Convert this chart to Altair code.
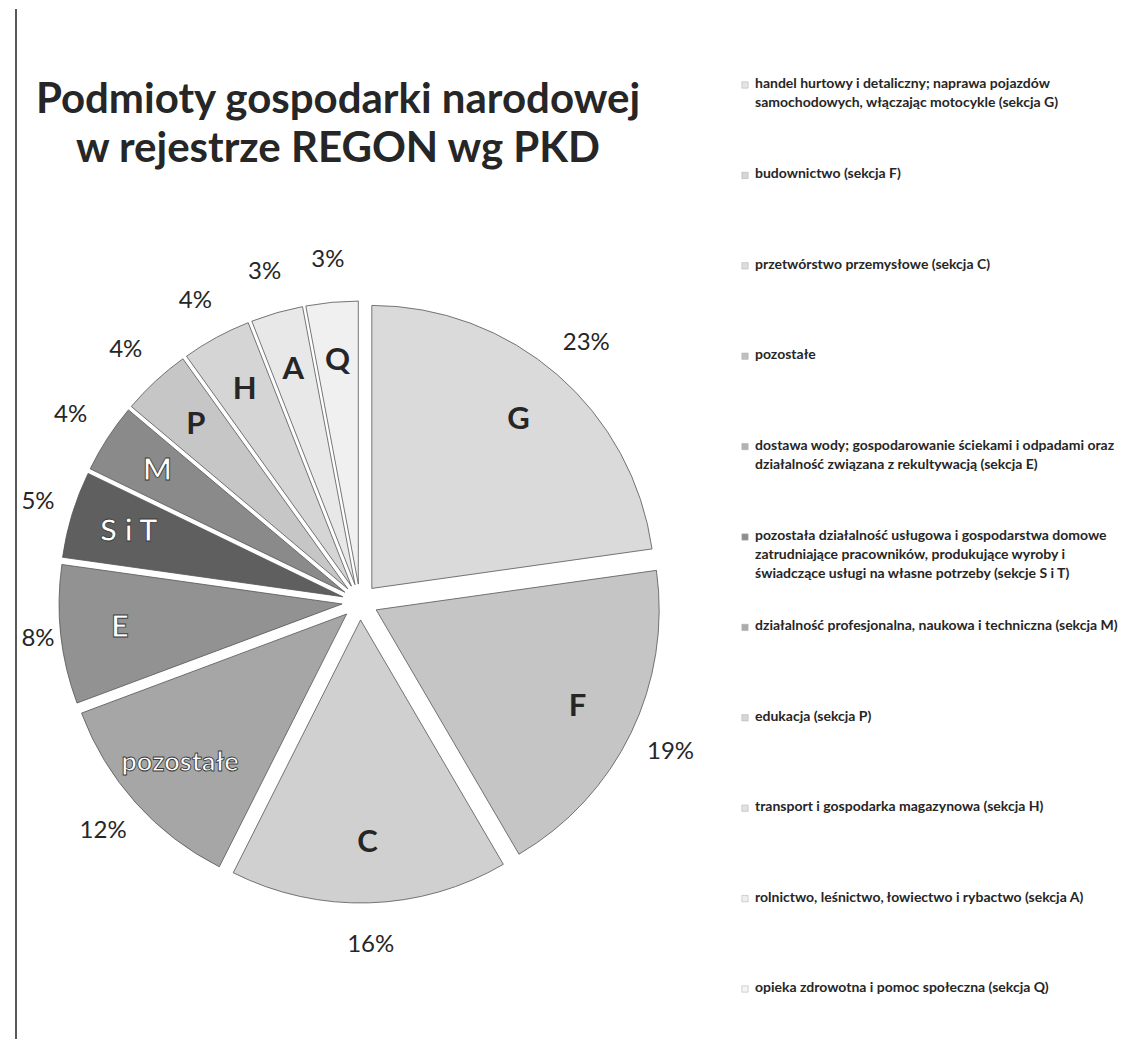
import altair as alt
import pandas as pd

# ---- data ----
sections = ["G", "F", "C", "pozostałe", "E", "S i T", "M", "P", "H", "A", "Q"]
shares = [23, 19, 16, 12, 8, 5, 4, 4, 4, 3, 3]
legend_lines = [
    ["handel hurtowy i detaliczny; naprawa pojazdów", "samochodowych, włączając motocykle (sekcja G)"],
    ["budownictwo (sekcja F)"],
    ["przetwórstwo przemysłowe (sekcja C)"],
    ["pozostałe"],
    ["dostawa wody; gospodarowanie ściekami i odpadami oraz", "działalność związana z rekultywacją  (sekcja E)"],
    ["pozostała działalność usługowa i gospodarstwa domowe", "zatrudniające pracowników, produkujące wyroby i",
     "świadczące usługi na własne potrzeby (sekcje S i T)"],
    ["działalność profesjonalna, naukowa i techniczna (sekcja M)"],
    ["edukacja (sekcja P)"],
    ["transport i gospodarka magazynowa  (sekcja H)"],
    ["rolnictwo, leśnictwo, łowiectwo i rybactwo (sekcja A)"],
    ["opieka zdrowotna i pomoc społeczna (sekcja Q)"],
]
colors = ["#dadada", "#c5c5c5", "#d0d0d0", "#a6a6a6", "#929292", "#5f5f5f",
          "#8a8a8a", "#c6c6c6", "#d5d5d5", "#e8e8e8", "#f0f0f0"]
title_lines = ["Podmioty gospodarki narodowej", "w rejestrze REGON wg PKD"]

df = pd.DataFrame({
    "section": sections,
    "share": shares,
    "order": list(range(len(sections))),
    "pct": [f"{v}%" for v in shares],
    "legend": ["\n\u00a0\u00a0".join(lines) for lines in legend_lines],
})
title_df = pd.DataFrame({"title": ["\n".join(title_lines)]})

TOTAL = sum(shares)
R = 283          # pie radius (px)
EXPLODE = 18     # uniform slice explosion (px)
W, H = 690, 1030
CX, CY = 352, 593  # pie centre inside the panel

xs = alt.Scale(domain=[-CX, W - CX], nice=False, zero=False)
ys = alt.Scale(domain=[-(H - CY), CY], nice=False, zero=False)
color_scale = alt.Scale(domain=sections, range=colors)

base = (
    alt.Chart(df)
    .transform_window(cum="sum(share)", sort=[{"field": "order"}], frame=[None, 0])
    .transform_calculate(
        start="datum.cum - datum.share",
        mid=f"(datum.cum - datum.share / 2) / {TOTAL} * 2 * PI",
    )
    .transform_calculate(
        cx=f"{EXPLODE} * sin(datum.mid)",
        cy=f"{EXPLODE} * cos(datum.mid)",
        lx=f"({R} * 0.79 + {EXPLODE}) * sin(datum.mid)",
        ly=f"({R} * 0.79 + {EXPLODE}) * cos(datum.mid)",
        # outside-end labels, kept inside the panel on the left
        px=f"max({-(CX - 30)}, ({R} + 44 + {EXPLODE}) * sin(datum.mid))",
        py=f"({R} + 42 + {EXPLODE}) * cos(datum.mid)",
    )
)

arcs = base.mark_arc(radius=R, stroke="#555555", strokeWidth=0.8).encode(
    x=alt.X("cx:Q", scale=xs, axis=None),
    y=alt.Y("cy:Q", scale=ys, axis=None),
    theta=alt.Theta("start:Q", scale=alt.Scale(domain=[0, TOTAL])),
    theta2="cum:Q",
    color=alt.Color("section:N", scale=color_scale, legend=None),
    order=alt.Order("order:Q"),
)

dark = alt.FieldOneOfPredicate(field="section", oneOf=["pozostałe", "E", "S i T", "M"])
longlabel = alt.FieldEqualPredicate(field="section", equal="pozostałe")

letters = base.mark_text(font="Lato", fontWeight="bold", strokeWidth=0.9).encode(
    x=alt.X("lx:Q", scale=xs, axis=None),
    y=alt.Y("ly:Q", scale=ys, axis=None),
    text="section:N",
    size=alt.condition(longlabel, alt.value(27), alt.value(31)),
    color=alt.condition(dark, alt.value("white"), alt.value("#262626")),
    stroke=alt.condition(dark, alt.value("#3a3a3a"), alt.value("transparent")),
)

pcts = base.mark_text(font="Lato", fontSize=24, color="#262626").encode(
    x=alt.X("px:Q", scale=xs, axis=None),
    y=alt.Y("py:Q", scale=ys, axis=None),
    text="pct:N",
)

title = alt.Chart(title_df).mark_text(
    font="Lato", fontWeight="bold", fontSize=42, lineHeight=49, lineBreak="\n",
    align="center", baseline="alphabetic", color="#262626",
).encode(x=alt.value(330), y=alt.value(104), text="title:N")

border = alt.Chart(title_df).mark_rule(color="#222222", strokeWidth=1.5).encode(
    x=alt.value(8), y=alt.value(0), y2=alt.value(H)
)

pie = alt.layer(border, arcs, letters, pcts, title).properties(width=W, height=H)

ly_scale = alt.Scale(type="point", range=[76, 980], padding=0)
legend_base = alt.Chart(df)
marks = legend_base.mark_square(size=40, stroke="#888888", strokeWidth=0.5).encode(
    x=alt.value(22),
    y=alt.Y("section:N", sort=sections, scale=ly_scale, axis=None),
    color=alt.Color("section:N", scale=color_scale, legend=None),
)
texts = legend_base.mark_text(
    align="left", baseline="top", dy=-8, font="Lato", fontWeight="bold",
    fontSize=14, lineBreak="\n", lineHeight=19, color="#262626",
).encode(
    x=alt.value(32),
    y=alt.Y("section:N", sort=sections, scale=ly_scale, axis=None),
    text="legend:N",
)
legend = alt.layer(marks, texts).properties(width=380, height=H)

chart = (
    alt.hconcat(pie, legend, spacing=25)
    .properties(padding=0)
    .configure(background="white")
    .configure_view(stroke="transparent", strokeWidth=0)
)

chart.save("out.html", embed_options={"renderer": "svg", "actions": False})
